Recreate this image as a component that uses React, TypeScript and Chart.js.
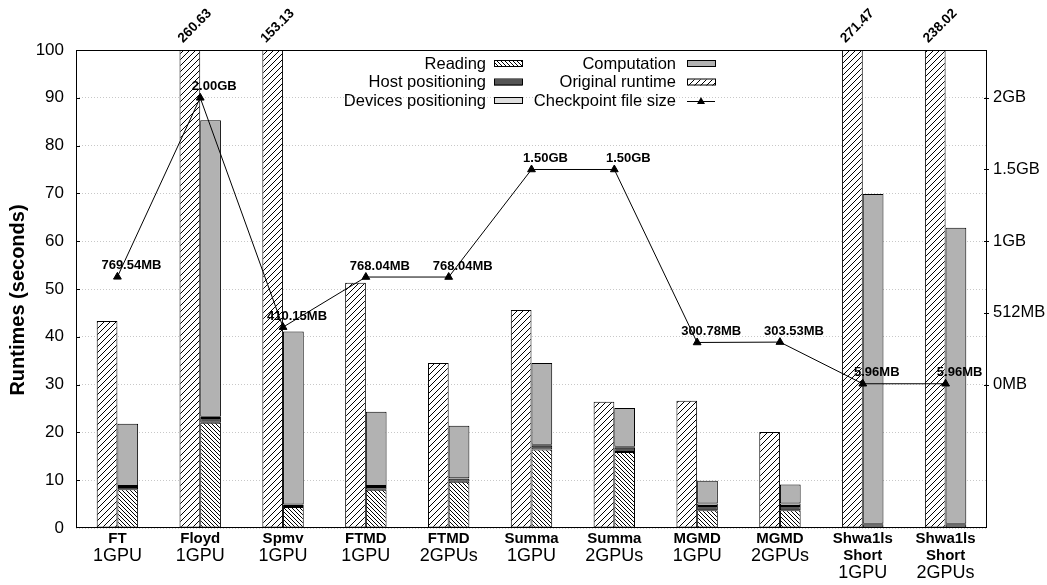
import React, { useEffect, useRef } from "react";
import { Chart, registerables } from "chart.js";

Chart.register(...registerables);

const categoryNames = ["FT", "Floyd", "Spmv", "FTMD", "FTMD", "Summa", "Summa", "MGMD", "MGMD", "Shwa1ls\nShort", "Shwa1ls\nShort"];
const gpuLabels = ["1GPU", "1GPU", "1GPU", "1GPU", "2GPUs", "1GPU", "2GPUs", "1GPU", "2GPUs", "1GPU", "2GPUs"];
const originalRuntime = [43.3, 260.63, 153.13, 51.3, 34.5, 45.6, 26.4, 26.6, 20.1, 271.47, 238.02];
const reading = [8.1, 22.0, 4.4, 8.0, 9.7, 16.4, 15.9, 3.7, 3.7, 0.1, 0.1];
const hostPositioning = [0.5, 1.0, 0.4, 0.6, 0.6, 0.8, 0.9, 0.9, 0.9, 0.7, 0.7];
const devicesPositioning = [0.2, 0.3, 0.1, 0.2, 0.1, 0.2, 0.2, 0.5, 0.5, 0.1, 0.1];
const computation = [13.0, 62.0, 36.2, 15.5, 11.0, 17.1, 8.1, 4.8, 4.0, 69.0, 61.9];
const checkpointMB = [769.54, 2048, 410.15, 768.04, 768.04, 1536, 1536, 300.78, 303.53, 5.96, 5.96];
const checkpointLabels = ["769.54MB", "2.00GB", "410.15MB", "768.04MB", "768.04MB", "1.50GB", "1.50GB", "300.78MB", "303.53MB", "5.96MB", "5.96MB"];
const rightTickValues = [0, 512, 1024, 1536, 2048];
const rightTickLabels = ["0MB", "512MB", "1GB", "1.5GB", "2GB"];

const FONT = "'Liberation Sans', Arial, Helvetica, sans-serif";

function makeHatch(size: number, dir: "/" | "\\", lw: number) {
  const c = document.createElement("canvas");
  c.width = size;
  c.height = size;
  const g = c.getContext("2d")!;
  g.fillStyle = "#fff";
  g.fillRect(0, 0, size, size);
  g.strokeStyle = "#000";
  g.lineWidth = lw;
  g.beginPath();
  if (dir === "/") {
    g.moveTo(-1, size + 1);
    g.lineTo(size + 1, -1);
    g.moveTo(-2, 2);
    g.lineTo(2, -2);
    g.moveTo(size - 2, size + 2);
    g.lineTo(size + 2, size - 2);
  } else {
    g.moveTo(-1, -1);
    g.lineTo(size + 1, size + 1);
    g.moveTo(-2, size - 2);
    g.lineTo(2, size + 2);
    g.moveTo(size - 2, -2);
    g.lineTo(size + 2, 2);
  }
  g.stroke();
  const ctx = document.createElement("canvas").getContext("2d")!;
  return ctx.createPattern(c, "repeat")!;
}

export default function App() {
  const ref = useRef<HTMLCanvasElement | null>(null);

  useEffect(() => {
    document.body.style.margin = "0";
    const canvas = ref.current!;
    const hatchOrig = makeHatch(6, "/", 1);
    const hatchRead = makeHatch(4, "\\", 1);
    const COMP = "#b2b2b2";
    const HOST = "#555555";
    const DEV = "#dedede";

    const customDraw = {
      id: "customDraw",
      afterDraw(chart: any) {
        const ctx = chart.ctx as CanvasRenderingContext2D;
        const { left, right, top, bottom } = chart.chartArea;
        const yS = chart.scales.y;
        const y2S = chart.scales.y2;
        const xS = chart.scales.x;
        ctx.save();
        // border
        ctx.strokeStyle = "#000";
        ctx.lineWidth = 1;
        ctx.strokeRect(left + 0.5, top + 0.5, right - left - 1, bottom - top - 1);
        // ticks
        ctx.beginPath();
        for (let v = 10; v < 100; v += 10) {
          const py = Math.round(yS.getPixelForValue(v)) + 0.5;
          ctx.moveTo(left, py);
          ctx.lineTo(left + 4, py);
        }
        for (const v of rightTickValues) {
          const py = Math.round(y2S.getPixelForValue(v)) + 0.5;
          ctx.moveTo(right - 3, py);
          ctx.lineTo(right + 2, py);
        }
        ctx.stroke();

        // x labels
        ctx.fillStyle = "#000";
        ctx.textAlign = "center";
        ctx.textBaseline = "middle";
        categoryNames.forEach((name, i) => {
          const px = xS.getPixelForValue(i);
          const lines = name.split("\n");
          let yy = 539;
          ctx.font = `bold 15px ${FONT}`;
          lines.forEach((ln) => {
            ctx.fillText(ln, px, yy);
            yy += 17;
          });
          ctx.font = `18px ${FONT}`;
          ctx.fillText(gpuLabels[i], px, yy);
        });

        // top labels for clipped original bars
        const origMeta = chart.getDatasetMeta(1);
        ctx.font = `bold 13.5px ${FONT}`;
        originalRuntime.forEach((v, i) => {
          if (v > 100) {
            const bx = origMeta.data[i].x;
            ctx.save();
            ctx.translate(bx + 5, 26);
            ctx.rotate(-Math.PI / 4);
            ctx.textAlign = "center";
            ctx.textBaseline = "middle";
            ctx.fillText(v.toFixed(2), 0, 0);
            ctx.restore();
          }
        });

        // point labels
        const lineMeta = chart.getDatasetMeta(0);
        ctx.font = `bold 13px ${FONT}`;
        ctx.textAlign = "center";
        ctx.textBaseline = "middle";
        checkpointLabels.forEach((lab, i) => {
          const p = lineMeta.data[i];
          ctx.fillText(lab, p.x + 14, p.y - 11);
        });

        // y title
        ctx.save();
        ctx.translate(18, 300);
        ctx.rotate(-Math.PI / 2);
        ctx.font = `bold 20px ${FONT}`;
        ctx.textAlign = "center";
        ctx.textBaseline = "middle";
        ctx.fillText("Runtimes (seconds)", 0, 0);
        ctx.restore();

        // legend
        const rows = [64, 82.5, 101];
        ctx.font = `16.5px ${FONT}`;
        ctx.textAlign = "right";
        ctx.textBaseline = "middle";
        const col1 = [
          { t: "Reading", fill: hatchRead as any },
          { t: "Host positioning", fill: HOST },
          { t: "Devices positioning", fill: DEV },
        ];
        col1.forEach((it, r) => {
          ctx.fillStyle = "#000";
          ctx.fillText(it.t, 486, rows[r]);
          ctx.fillStyle = it.fill;
          ctx.fillRect(494, rows[r] - 3, 28, 6);
          ctx.strokeStyle = "#000";
          ctx.strokeRect(494.5, rows[r] - 3.5, 28, 6);
        });
        const col2 = [
          { t: "Computation", fill: COMP as any },
          { t: "Original runtime", fill: hatchOrig as any },
        ];
        col2.forEach((it, r) => {
          ctx.fillStyle = "#000";
          ctx.fillText(it.t, 676, rows[r]);
          ctx.fillStyle = it.fill;
          ctx.fillRect(687, rows[r] - 3, 28, 6);
          ctx.strokeStyle = "#000";
          ctx.strokeRect(687.5, rows[r] - 3.5, 28, 6);
        });
        ctx.fillStyle = "#000";
        ctx.fillText("Checkpoint file size", 676, rows[2]);
        ctx.beginPath();
        ctx.moveTo(687, rows[2] + 0.5);
        ctx.lineTo(715, rows[2] + 0.5);
        ctx.stroke();
        ctx.beginPath();
        ctx.moveTo(701, rows[2] - 4);
        ctx.lineTo(705, rows[2] + 3);
        ctx.lineTo(697, rows[2] + 3);
        ctx.closePath();
        ctx.fill();
        ctx.restore();
      },
    };

    const barCommon = {
      borderColor: "#000",
      borderWidth: 1,
      borderSkipped: false as any,
      order: 1,
      categoryPercentage: 0.5,
      barPercentage: 1.0,
    };

    const chart = new Chart(canvas, {
      type: "bar",
      data: {
        labels: categoryNames.map((c, i) => c.replace("\n", " ") + " " + gpuLabels[i]),
        datasets: [
          {
            type: "line",
            label: "Checkpoint file size",
            data: checkpointMB,
            yAxisID: "y2",
            borderColor: "#000",
            borderWidth: 1,
            pointStyle: "triangle",
            pointRadius: 4.5,
            pointBackgroundColor: "#000",
            pointBorderColor: "#000",
            tension: 0,
            order: 0,
          } as any,
          { ...barCommon, label: "Original runtime", data: originalRuntime, stack: "orig", backgroundColor: hatchOrig },
          { ...barCommon, label: "Reading", data: reading, stack: "run", backgroundColor: hatchRead },
          { ...barCommon, label: "Host positioning", data: hostPositioning, stack: "run", backgroundColor: HOST },
          { ...barCommon, label: "Devices positioning", data: devicesPositioning, stack: "run", backgroundColor: DEV },
          { ...barCommon, label: "Computation", data: computation, stack: "run", backgroundColor: COMP },
        ],
      },
      options: {
        responsive: false,
        animation: false,
        layout: { padding: { top: 50, left: 0, right: 0, bottom: 0 } },
        plugins: { legend: { display: false }, tooltip: { enabled: false } },
        scales: {
          x: {
            grid: { display: false },
            ticks: { display: false },
            border: { display: false },
            afterFit: (s: any) => {
              s.height = 57;
            },
          },
          y: {
            stacked: true,
            min: 0,
            max: 100,
            ticks: { stepSize: 10, color: "#000", font: { size: 17, family: FONT }, padding: 12 },
            grid: { color: "#c8c8c8", lineWidth: 1, drawTicks: false },
            border: { display: false, dash: [1, 2] },
            afterFit: (s: any) => {
              s.width = 76;
            },
          },
          y2: {
            position: "right",
            min: -1024,
            max: 2389.33,
            grid: { display: false, drawTicks: false },
            border: { display: false },
            afterBuildTicks: (s: any) => {
              s.ticks = rightTickValues.map((v) => ({ value: v }));
            },
            ticks: {
              color: "#000",
              font: { size: 16.5, family: FONT },
              padding: 6,
              callback: (v: any) => {
                const i = rightTickValues.indexOf(Number(v));
                return i >= 0 ? rightTickLabels[i] : "";
              },
            },
            afterFit: (s: any) => {
              s.width = 60;
            },
          },
        },
      },
      plugins: [customDraw],
    });
    return () => chart.destroy();
  }, []);

  return (
    <div style={{ width: 1047, height: 585 }}>
      <canvas ref={ref} width={1047} height={585} style={{ display: "block" }} />
    </div>
  );
}
